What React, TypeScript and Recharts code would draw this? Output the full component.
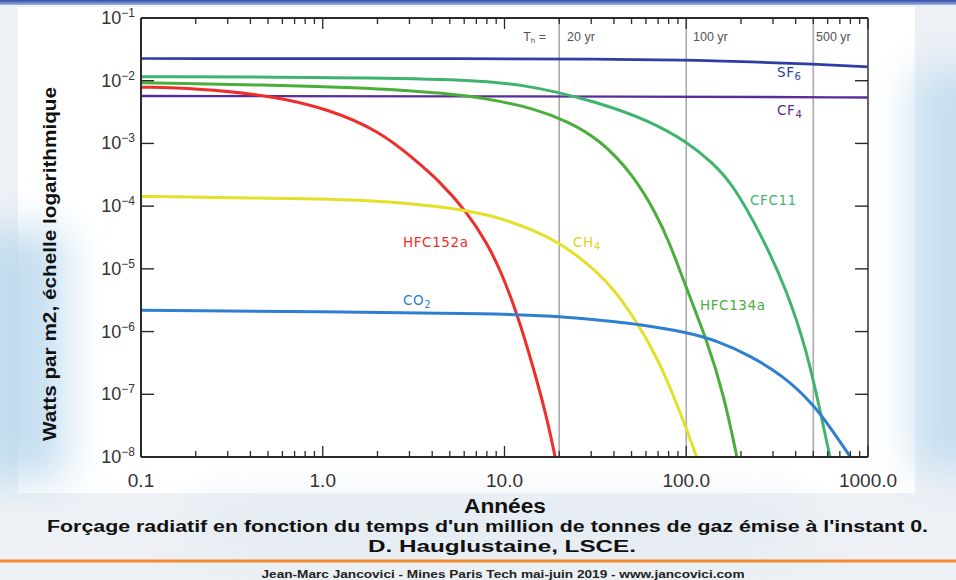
import React from 'react';
import { LineChart, Line, XAxis, YAxis, ReferenceLine } from 'recharts';

// Years after emission (x) and radiative forcing in W/m2 (y), one pair of arrays per gas
const yearsSF6 = [0.1, 10, 30, 100, 230, 500, 1000];
const forcingSF6 = [2.26e-2, 2.25e-2, 2.21e-2, 2.15e-2, 2.0e-2, 1.84e-2, 1.66e-2];

const yearsCF4 = [0.1, 100, 1000];
const forcingCF4 = [5.7e-3, 5.6e-3, 5.4e-3];

const yearsCFC11 = [0.1, 1, 5, 12, 33.5, 63, 100, 140, 181, 260, 357, 460, 545, 618];
const forcingCFC11 = [1.16e-2, 1.14e-2, 1.06e-2, 9.3e-3, 4.5e-3, 2.26e-3, 1.08e-3, 4.9e-4, 2.2e-4, 3.4e-5, 4.6e-6, 5.0e-7, 5.5e-8, 1e-8];

const yearsHFC134a = [0.1, 1, 3.4, 6.5, 9.5, 14.4, 22, 33.5, 51, 69, 81, 100, 130, 160, 190];
const forcingHFC134a = [9.3e-3, 8.2e-3, 6.9e-3, 5.7e-3, 4.7e-3, 3.6e-3, 2.3e-3, 1.15e-3, 3.2e-4, 7.2e-5, 2.6e-5, 5.0e-6, 7.2e-7, 1.05e-7, 1e-8];

const yearsHFC152a = [0.1, 0.2, 0.5, 1.1, 2.1, 3.1, 4.4, 6.2, 8, 9.5, 11.7, 14.4, 17.1, 19];
const forcingHFC152a = [7.9e-3, 7.6e-3, 5.9e-3, 3.5e-3, 1.5e-3, 6.0e-4, 2.5e-4, 8.1e-5, 2.6e-5, 9.5e-6, 2.0e-6, 2.7e-7, 4.3e-8, 1e-8];

const yearsCH4 = [0.1, 1, 2.3, 5.2, 8, 9.5, 14.4, 20, 27, 38, 53, 69, 84.5, 100, 114];
const forcingCH4 = [1.43e-4, 1.31e-4, 1.19e-4, 9.3e-5, 7.3e-5, 6.4e-5, 4.2e-5, 2.6e-5, 1.4e-5, 5.8e-6, 1.5e-6, 3.9e-7, 1.0e-7, 2.9e-8, 1e-8];

const yearsCO2 = [0.1, 1, 9.5, 20, 33.5, 56, 100, 147, 224, 340, 500, 640, 800];
const forcingCO2 = [2.18e-6, 2.07e-6, 1.93e-6, 1.75e-6, 1.51e-6, 1.3e-6, 9.8e-7, 7.2e-7, 4.15e-7, 2.0e-7, 7.0e-8, 2.6e-8, 1e-8];

// Lifetime markers (years)
const lifetimeMarks = [20, 100, 500];
const lifetimeLabels = ['20 yr', '100 yr', '500 yr'];

// Axis ticks
const decadeTicks = [0.1, 1, 10, 100, 1000];
const decadeLabels = ['0.1', '1.0', '10.0', '100.0', '1000.0'];
const minorMultiples = [2, 3, 4, 5, 6, 7, 8, 9];
const yExponents = [-1, -2, -3, -4, -5, -6, -7, -8];

const zip = (xs: number[], ys: number[]) => xs.map((t, i) => ({ t, v: ys[i] }));

const series = [
  { key: 'SF6', data: zip(yearsSF6, forcingSF6), color: '#2e3ea6', width: 2.7 },
  { key: 'CF4', data: zip(yearsCF4, forcingCF4), color: '#5a2c98', width: 2.4 },
  { key: 'CFC11', data: zip(yearsCFC11, forcingCFC11), color: '#3fb46e', width: 3 },
  { key: 'HFC134a', data: zip(yearsHFC134a, forcingHFC134a), color: '#4aae3a', width: 3 },
  { key: 'HFC152a', data: zip(yearsHFC152a, forcingHFC152a), color: '#ee2e2a', width: 3 },
  { key: 'CH4', data: zip(yearsCH4, forcingCH4), color: '#e4e028', width: 3 },
  { key: 'CO2', data: zip(yearsCO2, forcingCO2), color: '#2f7fd0', width: 3 },
];

const xTicks: number[] = [];
decadeTicks.forEach((d, i) => {
  xTicks.push(d);
  if (i < decadeTicks.length - 1) minorMultiples.forEach((m) => xTicks.push(d * m));
});
const yTicks = yExponents.map((e) => Math.pow(10, e));

const AXIS = '#2a2a2a';
const TICK_FONT = '"Liberation Sans", Arial, sans-serif';

const majorIndex = (v: number) => decadeTicks.findIndex((d) => Math.abs(d - v) / d < 1e-6);

const BottomTick = (props: any) => {
  const { x, y, payload } = props;
  const idx = majorIndex(payload.value);
  const major = idx >= 0;
  return (
    <g>
      <line x1={x} x2={x} y1={y} y2={y - (major ? 11 : 6)} stroke={AXIS} strokeWidth={1.3} />
      {major && (
        <text x={x} y={y + 30} textAnchor="middle" fontFamily={TICK_FONT} fontSize={19} fill="#333">
          {decadeLabels[idx]}
        </text>
      )}
    </g>
  );
};

const TopTick = (props: any) => {
  const { x, y, payload } = props;
  const major = majorIndex(payload.value) >= 0;
  return <line x1={x} x2={x} y1={y} y2={y + (major ? 11 : 6)} stroke={AXIS} strokeWidth={1.3} />;
};

const LeftTick = (props: any) => {
  const { x, y, payload } = props;
  const e = Math.round(Math.log10(payload.value));
  return (
    <g>
      <line x1={x} x2={x + 13} y1={y} y2={y} stroke={AXIS} strokeWidth={1.4} />
      <text x={x - 6} y={y + 6} textAnchor="end" fontFamily={TICK_FONT} fontSize={18} fill="#333">
        <tspan>10</tspan>
        <tspan dy={-7} fontSize={12}>{'\u2212' + Math.abs(e)}</tspan>
      </text>
    </g>
  );
};

const RightTick = (props: any) => {
  const { x, y } = props;
  return <line x1={x} x2={x - 13} y1={y} y2={y} stroke={AXIS} strokeWidth={1.4} />;
};

const labelFont = '"DejaVu Sans", sans-serif';

const GasLabel = ({ x, y, color, main, sub }: { x: number; y: number; color: string; main: string; sub?: string }) => (
  <text x={x} y={y} fill={color} fontFamily={labelFont} fontSize={13.5} letterSpacing={0.6}>
    <tspan>{main}</tspan>
    {sub && (
      <tspan dy={3} fontSize={10}>
        {sub}
      </tspan>
    )}
  </text>
);

export default function App() {
  return (
    <div
      style={{
        position: 'fixed',
        left: 0,
        top: 0,
        width: 956,
        height: 580,
        overflow: 'hidden',
        background: '#edf1f5',
      }}
    >
      {/* slide backdrop */}
      <svg width={956} height={580} style={{ position: 'absolute', left: 0, top: 0 }}>
        <defs>
          <linearGradient id="topBar" x1="0" y1="0" x2="0" y2="1">
            <stop offset="0" stopColor="#2d4aa8" />
            <stop offset="1" stopColor="#9fb6e0" />
          </linearGradient>
          <filter id="soft" x="-50%" y="-50%" width="200%" height="200%">
            <feGaussianBlur stdDeviation="22" />
          </filter>
        </defs>
        <rect x={18} y={7} width={897} height={486} fill="#ffffff" />
        <rect x={-30} y={230} width={95} height={250} fill="#b9d8ee" opacity={0.85} filter="url(#soft)" />
        <rect x={915} y={70} width={80} height={400} fill="#c0dcf0" opacity={0.9} filter="url(#soft)" />
        <rect x={200} y={495} width={600} height={60} fill="#dfe8f0" opacity={0.6} filter="url(#soft)" />
        <rect x={0} y={0} width={956} height={5} fill="url(#topBar)" />
      </svg>

      <div style={{ position: 'absolute', left: 0, top: 0 }}>
        <LineChart width={956} height={580} margin={{ top: 8, right: 68, bottom: 93, left: 81 }}>
          <XAxis
            xAxisId="bottom"
            dataKey="t"
            type="number"
            scale="log"
            domain={[0.1, 1000]}
            allowDataOverflow
            ticks={xTicks}
            interval={0}
            height={30}
            tickSize={0}
            tickMargin={0}
            tickLine={false}
            tick={<BottomTick />}
            axisLine={{ stroke: AXIS, strokeWidth: 2 }}
          />
          <XAxis
            xAxisId="top"
            orientation="top"
            dataKey="t"
            type="number"
            scale="log"
            domain={[0.1, 1000]}
            allowDataOverflow
            ticks={xTicks}
            interval={0}
            height={10}
            tickSize={0}
            tickMargin={0}
            tickLine={false}
            tick={<TopTick />}
            axisLine={{ stroke: AXIS, strokeWidth: 1.8 }}
          />
          <YAxis
            yAxisId="left"
            type="number"
            scale="log"
            domain={[1e-8, 1e-1]}
            allowDataOverflow
            ticks={yTicks}
            interval={0}
            width={60}
            tickSize={0}
            tickMargin={0}
            tickLine={false}
            tick={<LeftTick />}
            axisLine={{ stroke: AXIS, strokeWidth: 2 }}
          />
          <YAxis
            yAxisId="right"
            orientation="right"
            type="number"
            scale="log"
            domain={[1e-8, 1e-1]}
            allowDataOverflow
            ticks={yTicks}
            interval={0}
            width={20}
            tickSize={0}
            tickMargin={0}
            tickLine={false}
            tick={<RightTick />}
            axisLine={{ stroke: '#555', strokeWidth: 1.8 }}
          />
          {lifetimeMarks.map((m) => (
            <ReferenceLine key={m} x={m} xAxisId="bottom" yAxisId="left" stroke="#aaaaaa" strokeWidth={1.6} />
          ))}
          {series.map((s) => (
            <Line
              key={s.key}
              data={s.data}
              dataKey="v"
              xAxisId="bottom"
              yAxisId="left"
              type="basis"
              stroke={s.color}
              strokeWidth={s.width}
              dot={false}
              activeDot={false}
              isAnimationActive={false}
            />
          ))}
        </LineChart>
      </div>

      {/* titles and annotations */}
      <svg width={956} height={580} style={{ position: 'absolute', left: 0, top: 0, pointerEvents: 'none' }}>
        <text x={546} y={41} textAnchor="end" fill="#555" fontFamily={TICK_FONT} fontSize={12.5}>
          <tspan>T</tspan>
          <tspan dy={2} fontSize={8}>h</tspan>
          <tspan dy={-2}> =</tspan>
        </text>
        <text x={567} y={41} fill="#555" fontFamily={TICK_FONT} fontSize={12.5}>{lifetimeLabels[0]}</text>
        <text x={693} y={41} fill="#555" fontFamily={TICK_FONT} fontSize={12.5}>{lifetimeLabels[1]}</text>
        <text x={816} y={41} fill="#555" fontFamily={TICK_FONT} fontSize={12.5}>{lifetimeLabels[2]}</text>

        <GasLabel x={777} y={77} color="#2e3ea6" main="SF" sub="6" />
        <GasLabel x={777} y={115} color="#5a2c98" main="CF" sub="4" />
        <GasLabel x={750} y={205} color="#3fb46e" main="CFC11" />
        <GasLabel x={573} y={247} color="#d8d420" main="CH" sub="4" />
        <GasLabel x={403} y={247} color="#ee2e2a" main="HFC152a" />
        <GasLabel x={403} y={305} color="#2f7fd0" main="CO" sub="2" />
        <GasLabel x={700} y={310} color="#4aae3a" main="HFC134a" />

        <text
          transform="translate(56 264) rotate(-90)"
          textAnchor="middle"
          fontFamily={TICK_FONT}
          fontWeight="bold"
          fontSize={19}
          textLength={354}
          lengthAdjust="spacingAndGlyphs"
          fill="#111"
        >
          Watts par m2, échelle logarithmique
        </text>

        <text x={505} y={513} textAnchor="middle" fontFamily={TICK_FONT} fontWeight="bold" fontSize={20} textLength={82} lengthAdjust="spacingAndGlyphs" fill="#111">
          Années
        </text>
        <text x={487.5} y={532} textAnchor="middle" fontFamily={TICK_FONT} fontWeight="bold" fontSize={16} textLength={881} lengthAdjust="spacingAndGlyphs" fill="#111">
          Forçage radiatif en fonction du temps d'un million de tonnes de gaz émise à l'instant 0.
        </text>
        <text x={502} y={552} textAnchor="middle" fontFamily={TICK_FONT} fontWeight="bold" fontSize={16} textLength={268} lengthAdjust="spacingAndGlyphs" fill="#111">
          D. Hauglustaine, LSCE.
        </text>
        <line x1={0} x2={956} y1={561} y2={561} stroke="#f28a2e" strokeWidth={3} />
        <text x={503} y={578} textAnchor="middle" fontFamily={TICK_FONT} fontWeight="bold" fontSize={11.5} textLength={483} lengthAdjust="spacingAndGlyphs" fill="#222">
          Jean-Marc Jancovici - Mines Paris Tech mai-juin 2019 - www.jancovici.com
        </text>
      </svg>
    </div>
  );
}
